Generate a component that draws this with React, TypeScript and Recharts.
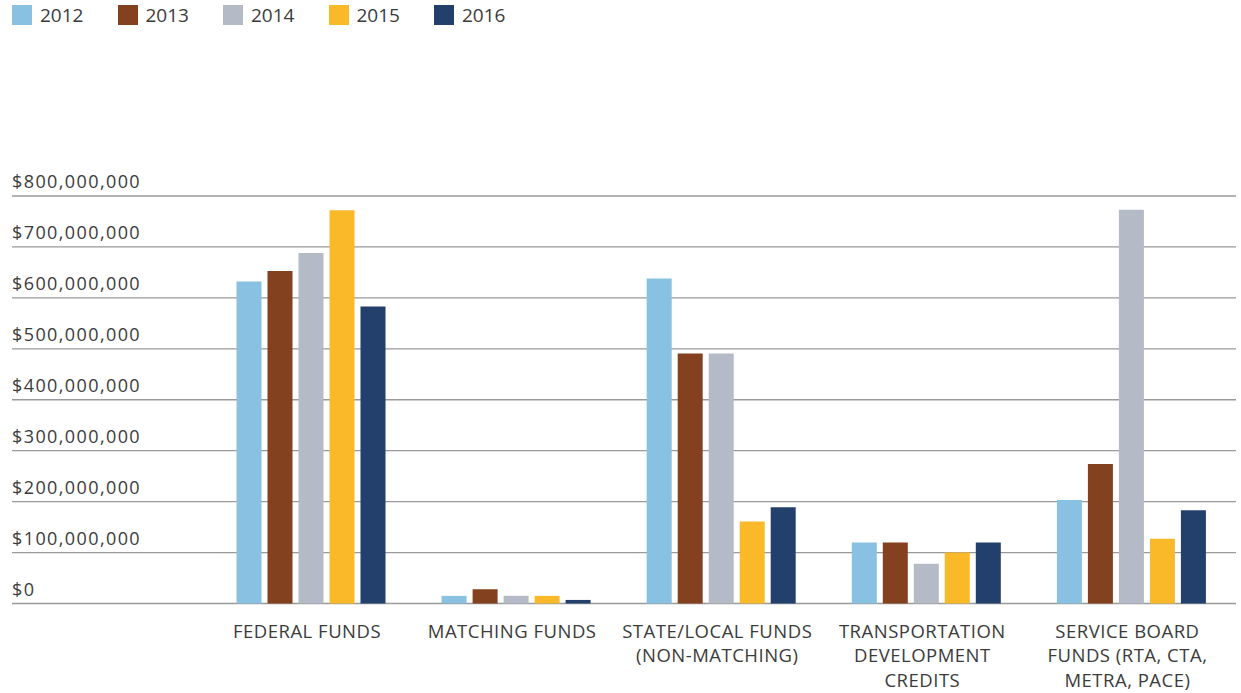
import { BarChart, Bar, XAxis, YAxis, CartesianGrid } from "recharts"

// categories (line breaks as in the original axis labels)
const categories = [
  "FEDERAL FUNDS",
  "MATCHING FUNDS",
  "STATE/LOCAL FUNDS\n(NON-MATCHING)",
  "TRANSPORTATION\nDEVELOPMENT\nCREDITS",
  "SERVICE BOARD\nFUNDS (RTA, CTA,\nMETRA, PACE)",
]

const years = ["2012", "2013", "2014", "2015", "2016"]

// values in dollars
const funds2012 = [632e6, 15e6, 638e6, 120e6, 203e6]
const funds2013 = [653e6, 28e6, 491e6, 120e6, 274e6]
const funds2014 = [688e6, 15e6, 491e6, 78e6, 773e6]
const funds2015 = [772e6, 15e6, 161e6, 100e6, 127e6]
const funds2016 = [583e6, 7e6, 189e6, 120e6, 183e6]

const yTicks = [0, 100e6, 200e6, 300e6, 400e6, 500e6, 600e6, 700e6, 800e6]

const colors = ["#88C1E2", "#84411F", "#B4BAC6", "#FAB928", "#233F6C"]

const series = [funds2012, funds2013, funds2014, funds2015, funds2016]

const data = categories.map((name, i) => {
  const row: Record<string, string | number> = { name }
  years.forEach((y, j) => {
    row[y] = series[j][i]
  })
  return row
})

const FONT = "'Open Sans', Lato, sans-serif"
const TEXT = "#3b3b3b"

const fmtMoney = (v: number) => "$" + v.toLocaleString("en-US")

function YTick(props: any) {
  const { y, payload } = props
  return (
    <text x={12} y={y - 8} fill={TEXT} fontSize={18} fontFamily={FONT} letterSpacing={1.4} textAnchor="start">
      {fmtMoney(payload.value)}
    </text>
  )
}

function XTick(props: any) {
  const { x, y, payload } = props
  const lines = String(payload.value).split("\n")
  const cx = x - 5
  return (
    <text x={cx} y={y} fill={TEXT} fontSize={18.5} fontFamily={FONT} letterSpacing={0.5} textAnchor="middle">
      {lines.map((l, i) => (
        <tspan key={i} x={cx} y={y + 26 + i * 24.5}>
          {l}
        </tspan>
      ))}
    </text>
  )
}

function YearLegend() {
  return (
    <div style={{ position: "absolute", left: 12, top: 5, display: "flex", fontFamily: FONT }}>
      {years.map((y, i) => (
        <div key={y} style={{ width: 105.5, display: "flex", alignItems: "center" }}>
          <span style={{ width: 20, height: 20, background: colors[i], display: "inline-block" }} />
          <span style={{ marginLeft: 8, fontSize: 19, color: TEXT, lineHeight: "20px" }}>{y}</span>
        </div>
      ))}
    </div>
  )
}

export default function App() {
  return (
    <div style={{ position: "absolute", left: 0, top: 0, width: 1241, height: 693, background: "#fff" }}>
      <YearLegend />
      <BarChart
        width={1241}
        height={693}
        data={data}
        margin={{ top: 196, right: 6, left: 12, bottom: 0 }}
        barCategoryGap={27}
        barGap={6}
      >
        <CartesianGrid vertical={false} stroke="#9a9a9a" strokeWidth={1.3} x={12} width={1224} />
        <XAxis
          dataKey="name"
          interval={0}
          height={89.5}
          axisLine={false}
          tickLine={false}
          tick={<XTick />}
        />
        <YAxis
          width={197.5}
          domain={[0, 800e6]}
          ticks={yTicks}
          axisLine={false}
          tickLine={false}
          tick={<YTick />}
        />
        {years.map((y, i) => (
          <Bar key={y} dataKey={y} fill={colors[i]} isAnimationActive={false} />
        ))}
      </BarChart>
    </div>
  )
}
